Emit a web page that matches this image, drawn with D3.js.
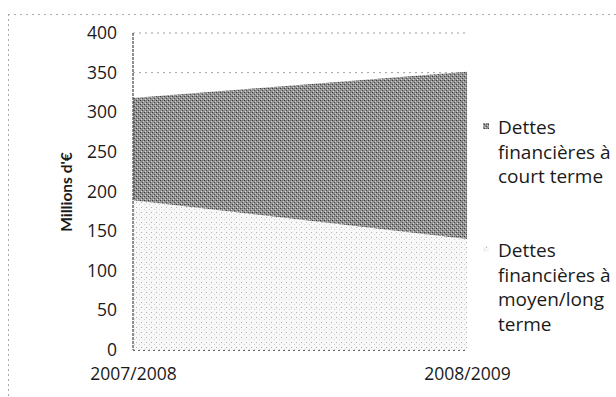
<!DOCTYPE html>
<html><head><meta charset="utf-8">
<script src="https://cdn.jsdelivr.net/npm/d3@7"></script>
<style>
html,body{margin:0;padding:0;background:#fff;}
svg{display:block;font-family:"Open Sans",Lato,sans-serif;}
</style></head>
<body><svg id="c" width="616" height="397"></svg>
<script>
const categories = ["2007/2008", "2008/2009"];
const moyenLong = [189, 140];
const courtTerme = [129, 211];
const yTicks = [0, 50, 100, 150, 200, 250, 300, 350, 400];
const legendLines = [
  ["Dettes", "financières à", "court terme"],
  ["Dettes", "financières à", "moyen/long", "terme"]
];

const svg = d3.select("#c");
const m = {l:133, r:467, t:33, b:350};
const x = d3.scalePoint().domain(categories).range([m.l, m.r]);
const y = d3.scaleLinear().domain([0, 400]).range([m.b, m.t]);

// frame (top and left dashed edges)
svg.append("line").attr("x1",8).attr("x2",616).attr("y1",14.5).attr("y2",14.5)
  .attr("stroke","#aaa").attr("stroke-dasharray","2,4");
svg.append("line").attr("x1",8.5).attr("x2",8.5).attr("y1",14).attr("y2",397)
  .attr("stroke","#aaa").attr("stroke-dasharray","2,3");

// gridlines
svg.append("g").selectAll("line").data(yTicks.filter(d=>d>0)).join("line")
  .attr("x1",m.l).attr("x2",m.r).attr("y1",d=>y(d)).attr("y2",d=>y(d))
  .attr("stroke","#888").attr("stroke-width",0.8).attr("stroke-dasharray","2,4");

const data = categories.map((c,i)=>({cat:c, ml:moyenLong[i], ct:courtTerme[i]}));
const stack = d3.stack().keys(["ml","ct"])(data);

// texture patterns
const defs = svg.append("defs");
const p1 = defs.append("pattern").attr("id","pd").attr("width",4).attr("height",4).attr("patternUnits","userSpaceOnUse");
p1.append("rect").attr("width",4).attr("height",4).attr("fill","#939393");
[[0,0,"#3a3a3a"],[2,2,"#4a4a4a"],[1,3,"#d8d8d8"],[3,1,"#c8c8c8"],[2,0,"#707070"]].forEach(([a,b,c])=>
  p1.append("rect").attr("x",a).attr("y",b).attr("width",1).attr("height",1).attr("fill",c));
const p2 = defs.append("pattern").attr("id","pl").attr("width",5).attr("height",5).attr("patternUnits","userSpaceOnUse");
p2.append("rect").attr("width",5).attr("height",5).attr("fill","#f8f8f8");
p2.append("rect").attr("x",1).attr("y",2).attr("width",1).attr("height",1).attr("fill","#b0b0b0");
p2.append("rect").attr("x",4).attr("y",4).attr("width",1).attr("height",1).attr("fill","#d0d0d0");

const area = d3.area().x(d=>x(d.data.cat)).y0(d=>y(d[0])).y1(d=>y(d[1]));
svg.append("g").selectAll("path").data(stack).join("path")
  .attr("d",area).attr("fill",(d,i)=> i===0 ? "url(#pl)" : "url(#pd)");

// axes
svg.append("line").attr("x1",m.l).attr("x2",m.l).attr("y1",m.t).attr("y2",m.b)
  .attr("stroke","#222").attr("stroke-width",1).attr("stroke-dasharray","3,1");
svg.append("line").attr("x1",m.l).attr("x2",m.r).attr("y1",m.b+0.5).attr("y2",m.b+0.5)
  .attr("stroke","#666").attr("stroke-width",1).attr("stroke-dasharray","2,3");

const yAxis = d3.axisLeft(y).tickValues(yTicks).tickSize(0).tickPadding(16);
const gy = svg.append("g").attr("transform",`translate(${m.l},0)`).call(yAxis);
gy.select(".domain").remove();
gy.selectAll("text").attr("font-size",17.5).attr("fill","#1a1a1a").attr("font-family","'Open Sans',Lato,sans-serif");

const xAxis = d3.axisBottom(x).tickSize(0).tickPadding(18);
const gx = svg.append("g").attr("transform",`translate(0,${m.b})`).call(xAxis);
gx.select(".domain").remove();
gx.selectAll("text").attr("font-size",17.5).attr("fill","#1a1a1a").attr("font-family","'Open Sans',Lato,sans-serif");

svg.append("text").attr("transform","translate(72,192) rotate(-90)")
  .attr("text-anchor","middle").attr("font-size",15.5).attr("font-weight","bold")
  .attr("font-family","Lato,sans-serif")
  .attr("fill","#1a1a1a").text("Millions d'€");

// legend
const legY = [134, 257];
const legFill = ["url(#pd)", "url(#pl)"];
legendLines.forEach((lines,i)=>{
  svg.append("rect").attr("x",483).attr("y",legY[i]-11).attr("width",6).attr("height",6).attr("fill",legFill[i]);
  const t = svg.append("text").attr("x",498).attr("y",legY[i]).attr("font-size",19).attr("fill","#1a1a1a");
  lines.forEach((s,j)=> t.append("tspan").attr("x",498).attr("dy", j===0?0:24.5).text(s));
});
</script></body></html>
